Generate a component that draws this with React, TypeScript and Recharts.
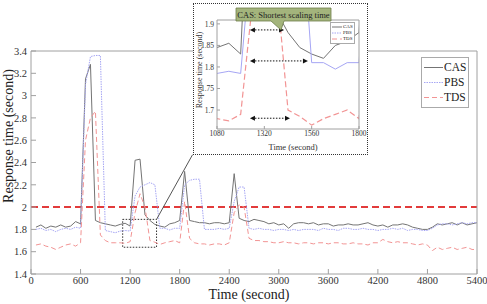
import { LineChart, Line, XAxis, YAxis, ReferenceLine, ReferenceArea, Legend } from "recharts"

const SERIF = '"Liberation Serif", "Times New Roman", Times, serif'

// sampling instants (second)
const TIME = [
  60, 120, 180, 240, 300, 360, 420, 480, 540, 600,
  660, 720, 780, 840, 900, 960, 1020, 1080, 1140, 1200,
  1260, 1320, 1380, 1440, 1500, 1560, 1620, 1680, 1740, 1800,
  1860, 1920, 1980, 2040, 2100, 2160, 2220, 2280, 2340, 2400,
  2460, 2520, 2580, 2640, 2700, 2760, 2820, 2880, 2940, 3000,
  3060, 3120, 3180, 3240, 3300, 3360, 3420, 3480, 3540, 3600,
  3660, 3720, 3780, 3840, 3900, 3960, 4020, 4080, 4140, 4200,
  4260, 4320, 4380, 4440, 4500, 4560, 4620, 4680, 4740, 4800,
  4860, 4920, 4980, 5040, 5100, 5160, 5220, 5280, 5340, 5400,
]

// response time (second)
const CAS = [
  1.82, 1.84, 1.81, 1.83, 1.82, 1.84, 1.82, 1.83, 1.87, 1.85,
  3.15, 3.28, 1.88, 1.86, 1.85, 1.84, 1.83, 1.845, 1.855, 1.83,
  2.42, 2.43, 1.93, 1.88, 1.845, 1.83, 1.82, 1.85, 1.86, 1.88,
  2.32, 1.88, 1.87, 1.86, 1.86, 1.85, 1.86, 1.86, 1.85, 1.86,
  2.3, 1.9, 1.88, 1.87, 1.89, 1.88, 1.87, 1.85, 1.86, 1.84,
  1.85, 1.81, 1.85, 1.86, 1.86, 1.85, 1.86, 1.84, 1.85, 1.85,
  1.83, 1.84, 1.84, 1.85, 1.84, 1.84, 1.85, 1.86, 1.84, 1.83,
  1.84, 1.82, 1.84, 1.84, 1.85, 1.84, 1.82, 1.81, 1.8, 1.8,
  1.82, 1.85, 1.84, 1.85, 1.86, 1.84, 1.86, 1.84, 1.85, 1.86,
]

const PBS = [
  1.8, 1.81, 1.79, 1.8, 1.78, 1.8, 1.81, 1.8, 1.82, 1.81,
  3.1, 3.35, 3.36, 3.36, 1.79, 1.78, 1.77, 1.785, 1.79, 1.785,
  2.1, 2.18, 2.2, 2.22, 2.2, 1.81, 1.81, 1.795, 1.81, 1.81,
  2.2, 2.24, 2.25, 2.25, 1.8, 1.8, 1.8, 1.81, 1.8, 1.81,
  2.05, 2.18, 2.18, 1.81, 1.8, 1.81, 1.8, 1.8, 1.79, 1.8,
  1.8, 1.79, 1.8, 1.79, 1.8, 1.8, 1.8, 1.79, 1.81, 1.8,
  1.8, 1.79, 1.81, 1.81, 1.8, 1.8, 1.81, 1.8, 1.8, 1.79,
  1.8, 1.8, 1.81, 1.8, 1.81, 1.79, 1.8, 1.8, 1.79, 1.79,
  1.81, 1.84, 1.85, 1.85, 1.84, 1.85, 1.86, 1.85, 1.86, 1.86,
]

const TDS = [
  1.66, 1.67, 1.65, 1.64, 1.62, 1.64, 1.66, 1.67, 1.65, 1.68,
  2.6, 2.8, 2.86, 1.75, 1.7, 1.68, 1.68, 1.68, 1.675, 1.69,
  1.95, 2.12, 2.0, 1.7, 1.685, 1.665, 1.68, 1.69, 1.7, 1.68,
  2.05, 1.72, 1.68, 1.67, 1.67, 1.66, 1.67, 1.67, 1.66, 1.68,
  1.95, 2.02, 2.0, 1.72, 1.7, 1.7, 1.69, 1.69, 1.68, 1.68,
  1.69, 1.68, 1.68, 1.67, 1.68, 1.68, 1.67, 1.68, 1.68, 1.67,
  1.68, 1.68, 1.67, 1.67, 1.68, 1.67, 1.67, 1.66, 1.68, 1.68,
  1.71, 1.69, 1.68, 1.69, 1.68, 1.68, 1.67, 1.66, 1.67, 1.66,
  1.61, 1.64, 1.62, 1.63, 1.64, 1.62, 1.63, 1.64, 1.62, 1.62,
]

const X_TICKS = [0, 600, 1200, 1800, 2400, 3000, 3600, 4200, 4800, 5400]
const Y_TICKS = [1.4, 1.6, 1.8, 2, 2.2, 2.4, 2.6, 2.8, 3, 3.2, 3.4]
const ZOOM_X_TICKS = [1080, 1320, 1560, 1800]
const ZOOM_Y_TICKS = [1.7, 1.75, 1.8, 1.85, 1.9]

const SLA = 2
// window of the main plot that the inset enlarges
const ZOOM_BOX = { x1: 1110, x2: 1520, y1: 1.64, y2: 1.89 }
// where the inset's lower left corner sits, in main-plot units
const INSET_CORNER = { x: 1956, y: 2.47 }
// scaling-time arrows in the inset: start, end, level
const ARROWS = [
  [1247, 1420, 1.886],
  [1247, 1541, 1.814],
  [1247, 1450, 1.681],
]

const SERIES = [
  { key: "CAS", color: "#747474", dash: undefined as string | undefined },
  { key: "PBS", color: "#a6a6f4", dash: "1.5 1" },
  { key: "TDS", color: "#f29494", dash: "5 3" },
]

const rows = TIME.map((t, i) => ({ t, CAS: CAS[i], PBS: PBS[i], TDS: TDS[i] }))

const fmt = (v: number) => String(Number(v.toFixed(2)))

const AXIS = "#a0a0a0"

function LegendBox({ font, row, line, pad }: { font: number; row: number; line: number; pad: number }) {
  return (
    <div
      style={{
        background: "#fff",
        border: "1px solid #aaa",
        padding: `${pad}px ${pad}px`,
        fontFamily: SERIF,
        fontSize: font,
        lineHeight: `${row}px`,
        color: "#222",
      }}
    >
      {SERIES.map((s) => (
        <div key={s.key} style={{ display: "flex", alignItems: "center", whiteSpace: "nowrap" }}>
          <svg width={line} height={row} style={{ display: "block" }}>
            <line x1={0} x2={line} y1={row / 2} y2={row / 2} stroke={s.color} strokeDasharray={s.dash} />
          </svg>
          <span style={{ marginLeft: 1 }}>{s.key}</span>
        </div>
      ))}
    </div>
  )
}

function Arrow(props: any) {
  const { x1, y1, x2, y2 } = props
  const h = 5
  const w = 2.5
  return (
    <g>
      <line x1={x1 + h} y1={y1} x2={x2 - h} y2={y2} stroke="#111" strokeDasharray="1.5 1.5" />
      <polygon points={`${x1},${y1} ${x1 + h},${y1 - w} ${x1 + h},${y1 + w}`} fill="#111" />
      <polygon points={`${x2},${y2} ${x2 - h},${y2 - w} ${x2 - h},${y2 + w}`} fill="#111" />
    </g>
  )
}

function MainChart() {
  const tick = { fill: "#333", fontSize: 10.5, fontFamily: SERIF }
  return (
    <LineChart width={487} height={304} data={rows} margin={{ top: 50, right: 9, bottom: 0, left: 6 }}>
      <XAxis dataKey="t" type="number" domain={[0, 5400]} ticks={X_TICKS} interval={0} height={30}
        tickSize={-5} tickMargin={8} stroke={AXIS} tick={tick} />
      <XAxis xAxisId="top" orientation="top" dataKey="t" type="number" domain={[0, 5400]} ticks={X_TICKS}
        interval={0} height={1} tick={false} tickSize={-5} stroke={AXIS} />
      <YAxis type="number" domain={[1.4, 3.4]} ticks={Y_TICKS} interval={0} width={25}
        tickSize={-5} tickMargin={9} tickFormatter={fmt} stroke={AXIS} tick={tick} />
      <YAxis yAxisId="right" orientation="right" type="number" domain={[1.4, 3.4]} ticks={Y_TICKS}
        interval={0} width={1} tick={false} tickSize={-5} stroke={AXIS} />
      <ReferenceLine y={SLA} stroke="#e23b3b" strokeWidth={2} strokeDasharray="7 4" />
      {SERIES.map((s) => (
        <Line key={s.key} dataKey={s.key} stroke={s.color} strokeDasharray={s.dash} strokeWidth={1}
          dot={false} activeDot={false} isAnimationActive={false} />
      ))}
      <ReferenceArea x1={ZOOM_BOX.x1} x2={ZOOM_BOX.x2} y1={ZOOM_BOX.y1} y2={ZOOM_BOX.y2} fill="none"
        stroke="#333" strokeDasharray="1.5 1.5" ifOverflow="visible" />
      <ReferenceLine segment={[{ x: ZOOM_BOX.x2, y: ZOOM_BOX.y2 }, INSET_CORNER]} stroke="#555" ifOverflow="visible" />
      <Legend layout="vertical" align="center" verticalAlign="middle"
        wrapperStyle={{ left: 421, top: 57 }}
        content={() => <LegendBox font={11.5} row={15} line={19} pad={2} />} />
    </LineChart>
  )
}

function InsetChart() {
  const tick = { fill: "#333", fontSize: 7.5, fontFamily: SERIF }
  return (
    <div style={{ position: "absolute", left: 193, top: 3, width: 173, height: 150, border: "1px dotted #333", background: "#fff" }}>
      <LineChart width={173} height={150} data={rows} margin={{ top: 15, right: 7, bottom: 0, left: 4 }}>
        <XAxis dataKey="t" type="number" domain={[1080, 1800]} allowDataOverflow ticks={ZOOM_X_TICKS} interval={0}
          height={25} tickSize={-3} tickMargin={5} stroke={AXIS} tick={tick} />
        <XAxis xAxisId="top" orientation="top" dataKey="t" type="number" domain={[1080, 1800]} allowDataOverflow
          ticks={ZOOM_X_TICKS} interval={0} height={1} tick={false} tickSize={-3} stroke={AXIS} />
        <YAxis type="number" domain={[1.656, 1.909]} allowDataOverflow ticks={ZOOM_Y_TICKS} interval={0} width={19}
          tickSize={-3} tickMargin={6} tickFormatter={fmt} stroke={AXIS} tick={tick} />
        <YAxis yAxisId="right" orientation="right" type="number" domain={[1.656, 1.909]} allowDataOverflow
          ticks={ZOOM_Y_TICKS} interval={0} width={1} tick={false} tickSize={-3} stroke={AXIS} />
        {SERIES.map((s) => (
          <Line key={s.key} dataKey={s.key} stroke={s.color} strokeDasharray={s.key === "TDS" ? "6 3" : undefined}
            strokeWidth={s.key === "TDS" ? 1.2 : 1} dot={false} activeDot={false} isAnimationActive={false} />
        ))}
        {ARROWS.map(([a, b, v]) => (
          <ReferenceLine key={`${a}-${b}`} segment={[{ x: a, y: v }, { x: b, y: v }]} ifOverflow="visible" shape={Arrow} />
        ))}
        <Legend layout="vertical" align="center" verticalAlign="middle"
          wrapperStyle={{ left: 136, top: 18 }}
          content={() => <LegendBox font={5} row={6} line={10} pad={1} />} />
      </LineChart>
    </div>
  )
}

function Overlay() {
  return (
    <svg width={487} height={304} style={{ position: "absolute", left: 0, top: 0, pointerEvents: "none" }}>
      <text x={13} y={136} transform="rotate(-90 13 136)" textAnchor="middle" fontFamily={SERIF} fontSize={14} fill="#222">
        Response time (second)
      </text>
      <text x={249} y={299} textAnchor="middle" fontFamily={SERIF} fontSize={14} fill="#222">
        Time (second)
      </text>
      <text x={201.5} y={70} transform="rotate(-90 201.5 70)" textAnchor="middle" fontFamily={SERIF} fontSize={8} fill="#333">
        Response time (second)
      </text>
      <text x={293} y={150} textAnchor="middle" fontFamily={SERIF} fontSize={8.5} fill="#333">
        Time (second)
      </text>
      <path d="M236,8 H331 V21 H284 L281,30 L271,21 H236 Z" fill="#a3b47c" stroke="#6f7f4a" strokeWidth={0.8} />
      <text x={283.5} y={17.8} textAnchor="middle" fontFamily={SERIF} fontSize={8.5} fill="#222">
        CAS: Shortest scaling time
      </text>
    </svg>
  )
}

export default function App() {
  return (
    <div style={{ position: "absolute", left: 0, top: 0, width: 487, height: 304, background: "#fff" }}>
      <MainChart />
      <InsetChart />
      <Overlay />
    </div>
  )
}
